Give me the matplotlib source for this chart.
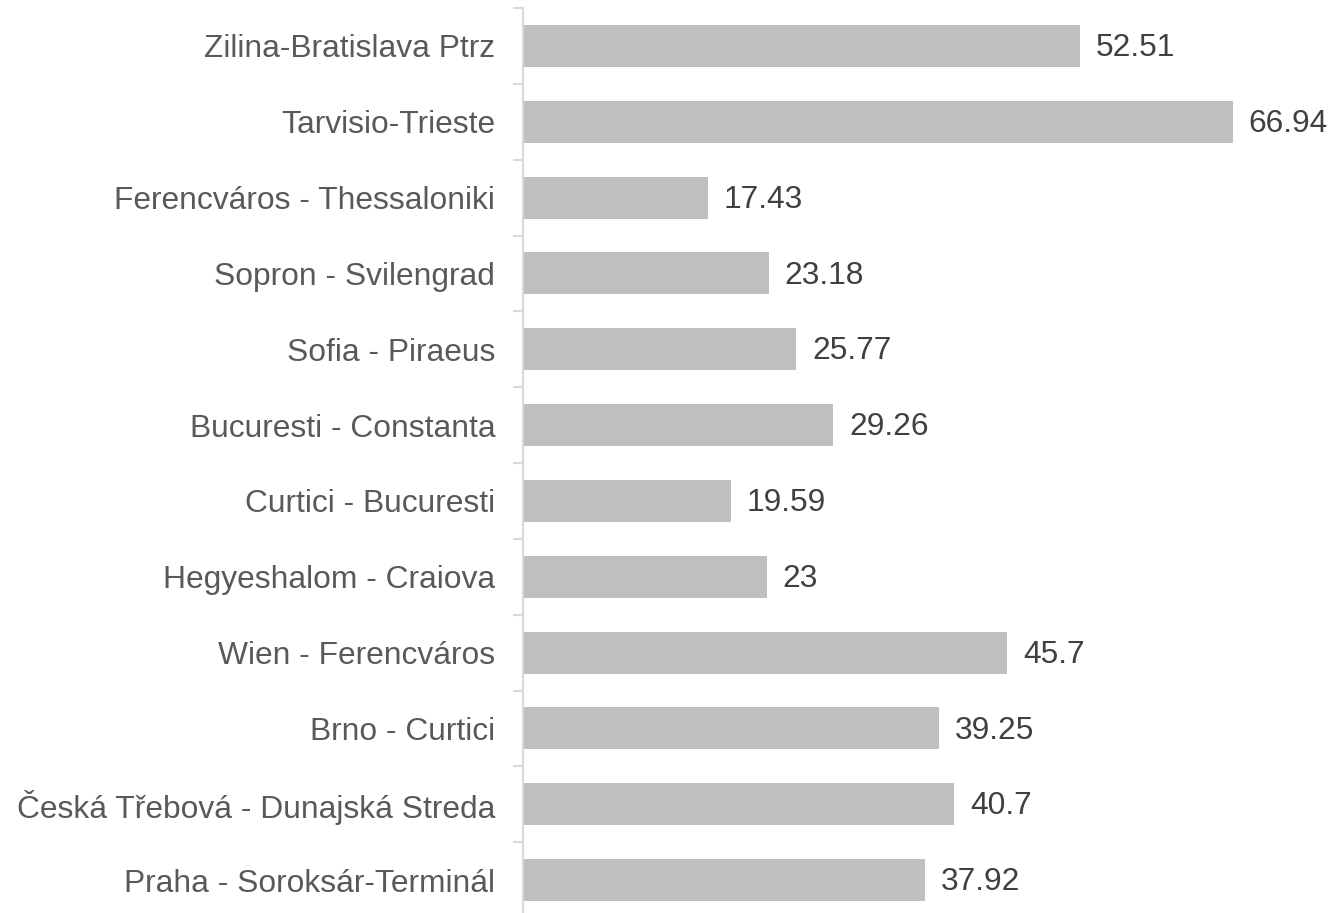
import matplotlib
matplotlib.use("Agg")
import matplotlib.pyplot as plt
import numpy as np

plt.rcParams['font.family'] = ['Liberation Sans', 'DejaVu Sans']

categories = [
    "Zilina-Bratislava Ptrz",
    "Tarvisio-Trieste",
    "Ferencváros - Thessaloniki",
    "Sopron - Svilengrad",
    "Sofia - Piraeus",
    "Bucuresti - Constanta",
    "Curtici - Bucuresti",
    "Hegyeshalom - Craiova",
    "Wien - Ferencváros",
    "Brno - Curtici",
    "Česká Třebová - Dunajská Streda",
    "Praha - Soroksár-Terminál",
]
values = [52.51, 66.94, 17.43, 23.18, 25.77, 29.26, 19.59, 23, 45.7, 39.25, 40.7, 37.92]
value_labels = ["52.51", "66.94", "17.43", "23.18", "25.77", "29.26", "19.59", "23", "45.7", "39.25", "40.7", "37.92"]

W, H = 1332, 913
fig = plt.figure(figsize=(W / 100, H / 100), dpi=100)
ax = fig.add_axes([523 / W, (H - 918) / H, 795 / W, 910 / H])

y = np.arange(len(categories))
ax.barh(y, values, height=0.553, color="#bfbfbf", zorder=2)

ax.set_xlim(0, 75)
ax.set_ylim(len(categories) - 0.5, -0.5)

ax.set_yticks(y)
ax.set_yticklabels(categories, fontsize=22.9, color="#595959")
ax.tick_params(axis='y', which='major', length=0, pad=20)
ax.set_yticks(np.arange(-0.5, len(categories), 1), minor=True)
ax.tick_params(axis='y', which='minor', length=7, width=1.5, color="#d9d9d9")
ax.set_xticks([])

for s in ['top', 'right', 'bottom']:
    ax.spines[s].set_visible(False)
ax.spines['left'].set_color("#d9d9d9")
ax.spines['left'].set_linewidth(1.5)

for yi, v, lab in zip(y, values, value_labels):
    ax.annotate(lab, xy=(v, yi), xytext=(11.5, -1.5), textcoords='offset points',
                va='center', ha='left', fontsize=22.9, color="#404040", clip_on=False)

fig.savefig("out.png", dpi=100)
